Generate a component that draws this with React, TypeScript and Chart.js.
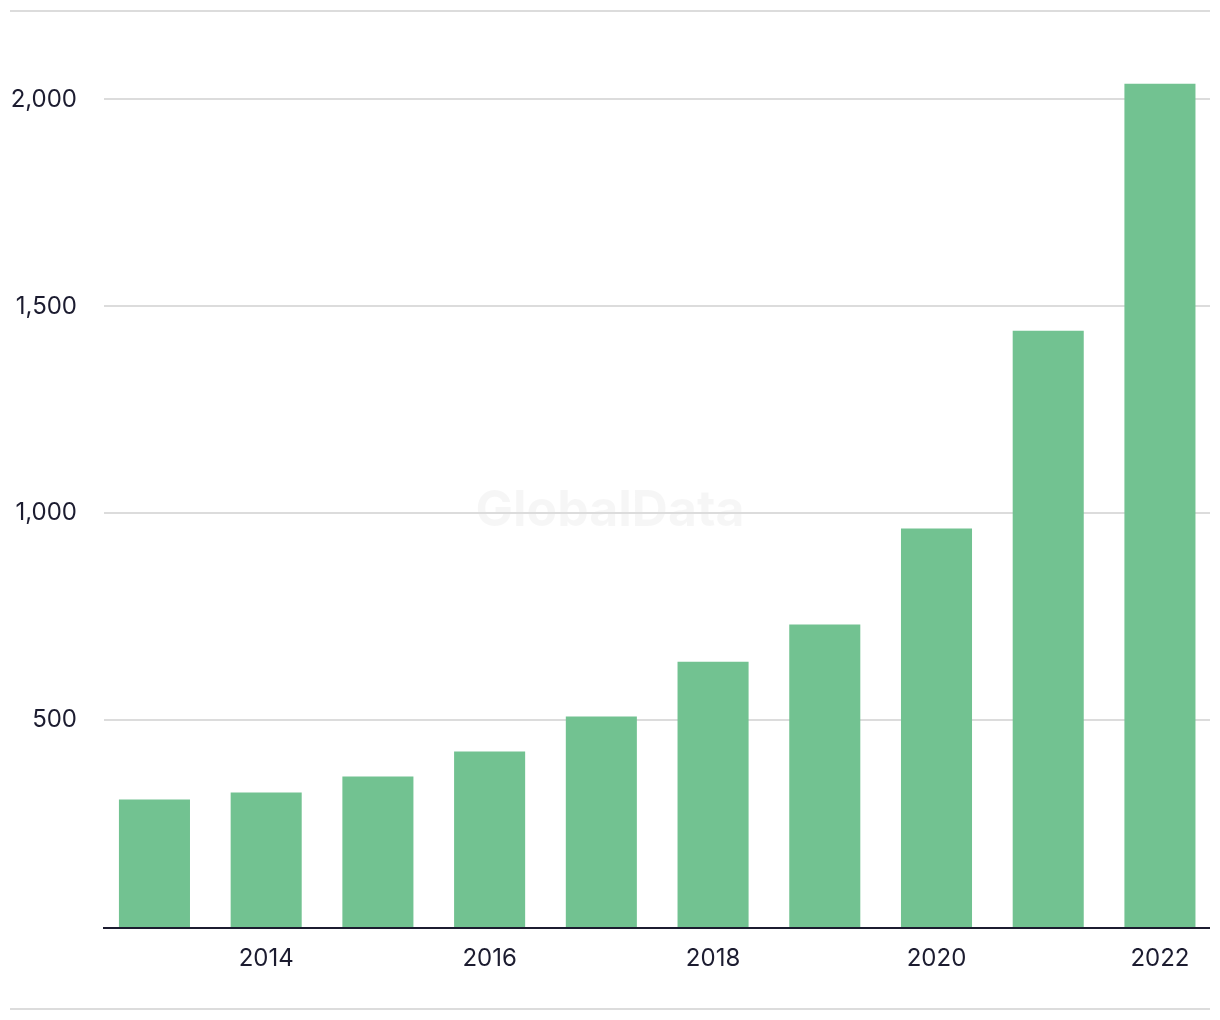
import React, { useEffect, useRef } from "react";
import { Chart, registerables } from "chart.js";

Chart.register(...registerables);

const years = ["2013", "2014", "2015", "2016", "2017", "2018", "2019", "2020", "2021", "2022"];
const values = [308, 325, 364, 424, 509, 641, 731, 963, 1441, 2038];
const yTicks = [500, 1000, 1500, 2000];
const watermark = "GlobalData";

const BAR = "#72c291";
const GRID = "#dcdcdc";
const INK = "#1c1c30";
const FONT = "Inter, 'Noto Sans', sans-serif";

const decor = {
  id: "decor",
  beforeDraw(chart: any) {
    const ctx = chart.ctx;
    ctx.save();
    ctx.fillStyle = GRID;
    ctx.fillRect(10, 10, 1200, 2);
    ctx.fillRect(10, 1008, 1200, 2);
    ctx.fillStyle = "rgba(0,0,0,0.035)";
    ctx.font = `bold 50px ${FONT}`;
    ctx.textAlign = "center";
    ctx.textBaseline = "middle";
    ctx.fillText(watermark, 610, 511);
    ctx.restore();
  },
  beforeDatasetsDraw(chart: any) {
    const ctx = chart.ctx;
    const y = chart.scales.y;
    ctx.save();
    ctx.strokeStyle = GRID;
    ctx.lineWidth = 2;
    for (const v of yTicks) {
      const py = Math.round(y.getPixelForValue(v));
      ctx.beginPath();
      ctx.moveTo(104, py);
      ctx.lineTo(1210, py);
      ctx.stroke();
    }
    ctx.restore();
  },
  afterDatasetsDraw(chart: any) {
    const ctx = chart.ctx;
    const y0 = chart.scales.y.getPixelForValue(0);
    ctx.save();
    ctx.fillStyle = INK;
    ctx.fillRect(103, y0, 1107, 2);
    ctx.restore();
  },
};

export default function App() {
  const ref = useRef<HTMLCanvasElement>(null);
  useEffect(() => {
    if (!ref.current) return;
    const chart = new Chart(ref.current, {
      type: "bar",
      data: {
        labels: years,
        datasets: [
          {
            data: values,
            backgroundColor: BAR,
            borderWidth: 0,
            barPercentage: 0.636,
            categoryPercentage: 1,
          },
        ],
      },
      options: {
        animation: false,
        responsive: false,
        maintainAspectRatio: false,
        layout: { padding: { top: 58.1, right: 4.2, left: 0, bottom: 0 } },
        plugins: { legend: { display: false }, tooltip: { enabled: false } },
        scales: {
          x: {
            grid: { display: false, drawTicks: false },
            border: { display: false },
            ticks: {
              autoSkip: false,
              maxRotation: 0,
              padding: 17.5,
              color: INK,
              font: { family: FONT, size: 24 },
              callback: (_v: any, i: number) => (parseInt(years[i]) % 2 === 0 ? years[i] : ""),
            },
            afterFit: (s: any) => {
              s.height = 93;
            },
          },
          y: {
            min: 0,
            max: 2100,
            grid: { display: false, drawTicks: false },
            border: { display: false },
            afterBuildTicks: (axis: any) => {
              axis.ticks = yTicks.map((v) => ({ value: v }));
            },
            ticks: {
              padding: 21.6,
              color: INK,
              font: { family: FONT, size: 24 },
              callback: (v: any) => Number(v).toLocaleString("en-US"),
            },
            afterFit: (s: any) => {
              s.width = 98.6;
            },
          },
        },
      },
      plugins: [decor],
    });
    return () => chart.destroy();
  }, []);
  return (
    <div style={{ position: "absolute", left: 0, top: 0, width: 1220, height: 1020, background: "#fff" }}>
      <canvas ref={ref} width={1220} height={1020} style={{ width: 1220, height: 1020 }} />
    </div>
  );
}
